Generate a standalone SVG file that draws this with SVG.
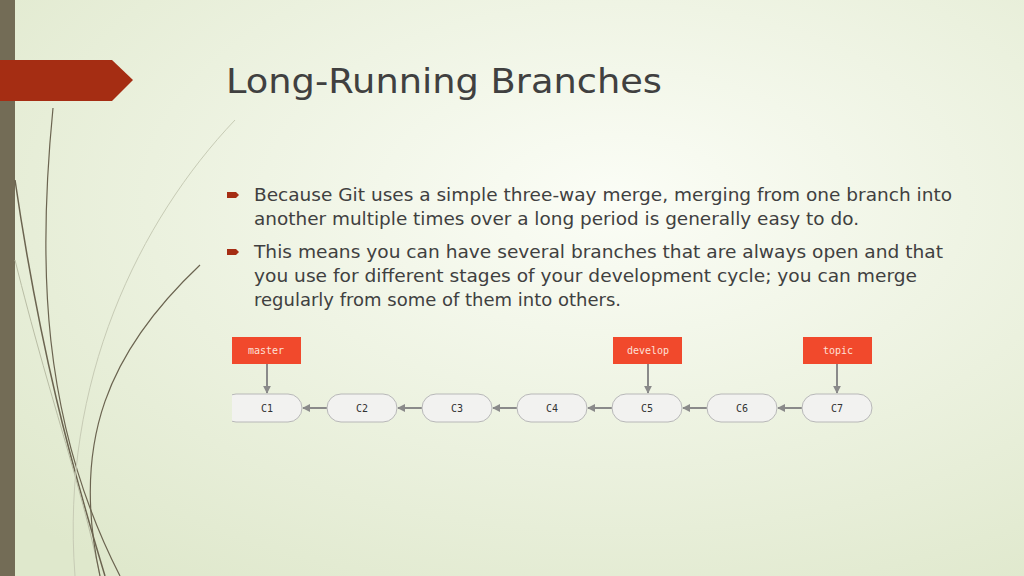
<svg xmlns="http://www.w3.org/2000/svg" width="1024" height="576" viewBox="0 0 1024 576">
<defs>
<radialGradient id="bg" cx="0.6" cy="0.35" r="0.8">
<stop offset="0" stop-color="#fbfdf6"/><stop offset="1" stop-color="#dfe8cc"/>
</radialGradient>
<marker id="ah" viewBox="0 0 10 10" refX="9" refY="5" markerWidth="4" markerHeight="4" orient="auto"><path d="M0,0L10,5L0,10z" fill="#8a8a8a"/></marker>
<clipPath id="c1clip"><rect x="232" y="390" width="80" height="36"/></clipPath>
</defs>
<style>
.node rect{fill:#f2f2f0;stroke:#b8b8b8;stroke-width:1}
.node text,.lbl text{font-family:"DejaVu Sans Mono",monospace;font-size:10px;text-anchor:middle}
.node text{fill:#333}
.lbl rect{fill:#f1492c}
.lbl text{fill:#fde0d8}
.conn line{stroke:#8a8a8a;stroke-width:2;marker-end:url(#ah)}
.body{font-family:"DejaVu Sans",sans-serif;font-size:17px;fill:#404040}
</style>
<rect width="1024" height="576" fill="url(#bg)"/>
<rect x="0" y="0" width="15" height="576" fill="#736c56"/>
<g fill="none" stroke="#6b6450">
<path d="M53,108 C38,260 40,420 120,576" stroke-width="1.2"/>
<path d="M15,180 C40,350 70,460 105,576" stroke-width="1.5"/>
<path d="M15,260 C50,400 80,480 100,576" stroke-width="1" stroke="#b9bda5"/>
<path d="M200,265 C110,350 70,440 100,576" stroke-width="1.2"/>
<path d="M235,120 C140,220 60,380 75,576" stroke-width="1" stroke="#c7cbb5"/>
</g>
<path d="M0,60 H112 L133,80 L112,101 H0z" fill="#a52d13"/>
<text x="226" y="93" font-family="DejaVu Sans,sans-serif" font-size="33" fill="#404040" textLength="436" lengthAdjust="spacingAndGlyphs">Long-Running Branches</text>
<g fill="#a52d13"><path d="M227,192h9l3,3l-3,3h-9z"/><path d="M227,249h9l3,3l-3,3h-9z"/></g>
<text class="body"><tspan x="254" y="201" textLength="698" lengthAdjust="spacingAndGlyphs">Because Git uses a simple three-way merge, merging from one branch into</tspan><tspan x="254" y="225" textLength="605" lengthAdjust="spacingAndGlyphs">another multiple times over a long period is generally easy to do.</tspan><tspan x="254" y="258" textLength="689" lengthAdjust="spacingAndGlyphs">This means you can have several branches that are always open and that</tspan><tspan x="254" y="282" textLength="663" lengthAdjust="spacingAndGlyphs">you use for different stages of your development cycle; you can merge</tspan><tspan x="254" y="306" textLength="367" lengthAdjust="spacingAndGlyphs">regularly from some of them into others.</tspan></text>
<g class="conn">
<line x1="267" y1="364" x2="267" y2="393"/>
<line x1="648" y1="364" x2="648" y2="393"/>
<line x1="837" y1="364" x2="837" y2="393"/>
<line x1="327" y1="408" x2="303" y2="408"/>
<line x1="422" y1="408" x2="398" y2="408"/>
<line x1="517" y1="408" x2="493" y2="408"/>
<line x1="612" y1="408" x2="588" y2="408"/>
<line x1="707" y1="408" x2="683" y2="408"/>
<line x1="802" y1="408" x2="778" y2="408"/>
</g>
<g id="master" class="lbl"><rect x="232" y="337" width="69" height="27"/><text x="266" y="354">master</text></g>
<g id="develop" class="lbl"><rect x="613" y="337" width="69" height="27"/><text x="648" y="354">develop</text></g>
<g id="topic" class="lbl"><rect x="803" y="337" width="69" height="27"/><text x="838" y="354">topic</text></g>
<g id="C1" class="node"><rect x="222" y="394" width="80" height="28" rx="14" clip-path="url(#c1clip)"/><text x="267" y="412">C1</text></g>
<g id="C2" class="node"><rect x="327" y="394" width="70" height="28" rx="14"/><text x="362" y="412">C2</text></g>
<g id="C3" class="node"><rect x="422" y="394" width="70" height="28" rx="14"/><text x="457" y="412">C3</text></g>
<g id="C4" class="node"><rect x="517" y="394" width="70" height="28" rx="14"/><text x="552" y="412">C4</text></g>
<g id="C5" class="node"><rect x="612" y="394" width="70" height="28" rx="14"/><text x="647" y="412">C5</text></g>
<g id="C6" class="node"><rect x="707" y="394" width="70" height="28" rx="14"/><text x="742" y="412">C6</text></g>
<g id="C7" class="node"><rect x="802" y="394" width="70" height="28" rx="14"/><text x="837" y="412">C7</text></g>
</svg>
